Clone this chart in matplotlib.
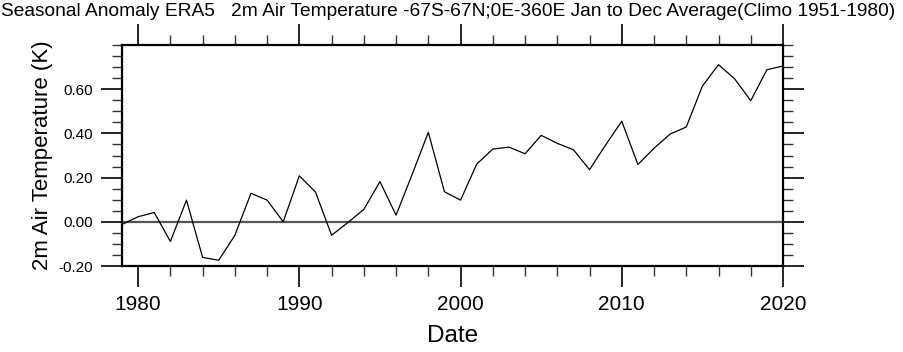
import numpy as np
import matplotlib
matplotlib.use("Agg")
import matplotlib.pyplot as plt
from matplotlib.ticker import MultipleLocator

plt.rcParams['font.family'] = ['Liberation Sans', 'DejaVu Sans']

# yearly anomaly values
years = list(range(1979, 2021))
anom = [-0.012, 0.023, 0.042, -0.089, 0.098, -0.161, -0.174, -0.061, 0.129, 0.098,
        0.000, 0.208, 0.135, -0.061, -0.004, 0.056, 0.182, 0.030, 0.215, 0.405,
        0.136, 0.098, 0.261, 0.329, 0.338, 0.308, 0.391, 0.355, 0.326, 0.236,
        0.348, 0.455, 0.259, 0.333, 0.397, 0.429, 0.614, 0.711, 0.647, 0.548,
        0.688, 0.705]

title = "Seasonal Anomaly ERA5   2m Air Temperature -67S-67N;0E-360E Jan to Dec Average(Climo 1951-1980)"

fig = plt.figure(figsize=(9.04, 3.52), dpi=100)
ax = fig.add_axes([122/904, 1-266/352, (783-122)/904, (266-45)/352])

ax.axhline(0, color='#555555', lw=1.6, zorder=1)
ax.plot(years, anom, color='black', lw=0.9, zorder=2)

ax.set_xlim(1979, 2020)
ax.set_ylim(-0.2, 0.8)
ax.xaxis.set_minor_locator(MultipleLocator(2))
ax.yaxis.set_minor_locator(MultipleLocator(0.05))
ax.set_yticks([-0.2, 0.0, 0.2, 0.4, 0.6])
ax.set_yticklabels(['-0.20', '0.00', '0.20', '0.40', '0.60'], fontsize=11)
ax.set_xticks([1980, 1990, 2000, 2010, 2020])
ax.set_xticklabels(['1980', '1990', '2000', '2010', '2020'], fontsize=15)

ax.tick_params(which='both', direction='out', top=True, right=True, width=1.2)
ax.tick_params(which='major', length=15)
ax.tick_params(which='minor', length=7, width=1.0, color='#333333')
ax.tick_params(axis='y', which='major', pad=6)
ax.tick_params(axis='x', which='major', pad=6)
for s in ax.spines.values():
    s.set_linewidth(1.6)

ax.set_ylabel("2m Air Temperature (K)", fontsize=16, labelpad=4)
ax.set_xlabel("Date", fontsize=17.5, labelpad=8)

fig.text(0.001, 1-12/352, title, fontsize=13.8, ha='left', va='center')

fig.savefig("out.png", dpi=100)
